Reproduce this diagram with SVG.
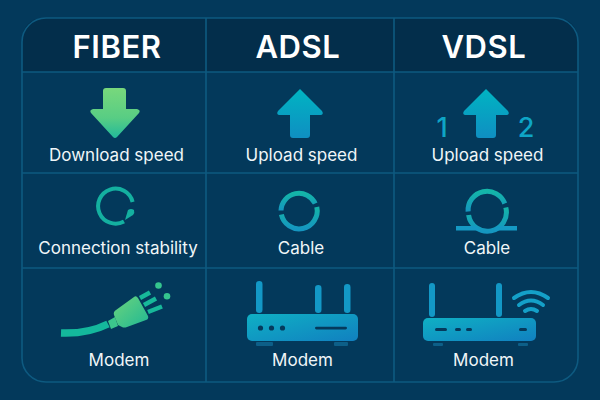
<svg xmlns="http://www.w3.org/2000/svg" width="600" height="400" viewBox="0 0 600 400">
<style>
.h{font-family:Inter,"Liberation Sans",sans-serif;font-size:31px;font-weight:600;letter-spacing:.6px;fill:#fff;text-anchor:middle}
.l{font-family:Inter,"Liberation Sans",sans-serif;font-size:17px;font-weight:400;fill:#f0f6f8;text-anchor:middle}
.n{font-family:Inter,"Liberation Sans",sans-serif;font-size:27px;font-weight:500;fill:#0ea5c6;text-anchor:middle}
.g{stroke:#0e5a80;stroke-width:1.6;fill:none}
.dk{fill:#053a5c}
.foot{fill:#0d5f88}
</style>
<defs>
<linearGradient id="gd" x1="0" y1="0" x2="0" y2="1"><stop offset="0" stop-color="#78d87c"/><stop offset="0.6" stop-color="#58cd84"/><stop offset="1" stop-color="#22b99a"/></linearGradient>
<linearGradient id="gu" x1="0" y1="0" x2="0" y2="1"><stop offset="0" stop-color="#00b4c2"/><stop offset="1" stop-color="#0f8fc2"/></linearGradient>
<linearGradient id="gr" x1="0" y1="0" x2="1" y2="1"><stop offset="0" stop-color="#0fb0c4"/><stop offset="1" stop-color="#1180c0"/></linearGradient>
<linearGradient id="gc" x1="0" y1="0" x2="0" y2="1"><stop offset="0" stop-color="#14b5a8"/><stop offset="1" stop-color="#1596c0"/></linearGradient>
<linearGradient id="gb" x1="0" y1="0" x2="1" y2="1"><stop offset="0" stop-color="#6cd47c"/><stop offset="1" stop-color="#20b894"/></linearGradient>
<path id="up" d="M0 -49L22 -27Q24 -24 21 -23H10V-3Q10 0 7 0H-7Q-10 0 -10 -3V-23H-21Q-24 -24 -22 -27Z"/>
</defs>
<rect width="600" height="400" fill="#03395b"/>
<g id="table">
<path d="M22 72V42Q22 18 46 18H554Q578 18 578 42V72Z" fill="#032e4b"/>
<rect x="22" y="18" width="556" height="364" rx="24" class="g"/>
<path class="g" d="M206 18V382M394 18V382M22 72H578M22 173H578M22 268H578"/>
</g>
<g id="fiber-head"><text class="h" x="117" y="58">FIBER</text></g>
<g id="adsl-head"><text class="h" x="298" y="58">ADSL</text></g>
<g id="vdsl-head"><text class="h" x="484" y="58">VDSL</text></g>
<g id="fiber-speed">
<path fill="url(#gd)" d="M103 91Q103 88 106 88H123Q126 88 126 91V109H137Q141 110 139 113L117 137Q115 139 113 137L91 113Q89 110 93 109H103Z"/>
<text class="l" x="116.500" y="160.500">Download speed</text>
</g>
<g id="adsl-speed">
<use href="#up" x="300" y="138" fill="url(#gu)"/>
<text class="l" x="301.500" y="160.500">Upload speed</text>
</g>
<g id="vdsl-speed">
<use href="#up" x="486" y="138" fill="url(#gu)"/>
<text class="n" x="442" y="137">1</text>
<text class="n" x="526" y="137">2</text>
<text class="l" x="487.500" y="160.500">Upload speed</text>
</g>
<g id="fiber-stability">
<path d="M132.600 202A17.500 17.500 0 1 0 124 221.500" fill="none" stroke="#14b0a0" stroke-width="4"/>
<path d="M125 220L128 210Q131 208 134 210Q135 213 133 215Z" fill="#14b0a0"/>
<text class="l" x="118" y="254">Connection stability</text>
</g>
<g id="adsl-cable">
<path d="M281 210.500A18 18 0 0 1 315.200 203.500" fill="none" stroke="url(#gc)" stroke-width="5"/>
<path d="M316.800 207A18 18 0 1 1 281.400 214.500" fill="none" stroke="url(#gc)" stroke-width="5"/>
<text class="l" x="301" y="254">Cable</text>
</g>
<g id="vdsl-cable">
<path d="M468.100 211.500A19 19 0 0 1 504.800 203.500" fill="none" stroke="url(#gc)" stroke-width="5"/>
<path d="M505.800 207.500A19 19 0 1 1 468.600 215" fill="none" stroke="url(#gc)" stroke-width="5"/>
<path d="M456 226H476L481 230.500H456ZM497 226H517V230.500H493Z" fill="#1599c4"/>
<text class="l" x="487" y="254">Cable</text>
</g>
<g id="fiber-modem">
<path d="M61 333Q88 334 108 324" fill="none" stroke="#14b89c" stroke-width="7.500"/>
<path d="M108 321L115 317L118 326L111 329Z" fill="#3cc68c"/>
<path d="M114 315Q113 312 116 310L134 297Q136 295 138 298L148 316Q149 319 146 320L127 327Q124 328 122 327L118 325Z" fill="url(#gb)"/>
<g stroke="#17b89a" stroke-width="4.500" fill="none"><path d="M140 298L150 292.500M144 305L156 298.500M148 312L162 306.500"/></g>
<circle cx="158.500" cy="285.500" r="3.300" fill="#35c58e"/>
<circle cx="167" cy="296.300" r="3.300" fill="#35c58e"/>
<text class="l" x="119" y="366">Modem</text>
</g>
<g id="adsl-modem">
<g fill="#1398c6"><rect x="256" y="281" width="6.500" height="32" rx="3.200"/><rect x="315" y="285" width="6.500" height="28" rx="3.200"/><rect x="344" y="284" width="6.500" height="29" rx="3.200"/></g>
<rect class="foot" x="256" y="342" width="17" height="4" rx="1"/><rect class="foot" x="334" y="342" width="14" height="4" rx="1"/>
<rect x="247" y="314" width="111" height="27" rx="5" fill="url(#gr)"/>
<g class="dk"><circle cx="260.500" cy="328" r="2.600"/><circle cx="271.500" cy="328" r="2.600"/><circle cx="282.500" cy="328" r="2.600"/><rect x="315" y="326.700" width="32" height="2.800" rx="1.400"/></g>
<text class="l" x="302.500" y="366">Modem</text>
</g>
<g id="vdsl-modem">
<g fill="#1398c6"><rect x="429" y="283" width="6" height="34" rx="3"/><rect x="496" y="283" width="6" height="34" rx="3"/></g>
<rect class="foot" x="433" y="343" width="10" height="3" rx="1"/><rect class="foot" x="518" y="343" width="10" height="3" rx="1"/>
<rect x="423" y="318" width="113" height="23" rx="5" fill="url(#gr)"/>
<g class="dk"><rect x="435" y="328" width="12" height="3" rx="1.500"/><rect x="455" y="328" width="6" height="3" rx="1.500"/><rect x="466" y="328" width="6" height="3" rx="1.500"/><rect x="519" y="328" width="8" height="3" rx="1.500"/></g>
<g fill="none" stroke="#14a0c8" stroke-linecap="round" stroke-width="4"><path d="M514 298Q531 286 548 298"/><path d="M519 305Q531 296 543 305"/><path d="M525 311Q531 307 537 311"/></g>
<text class="l" x="483.500" y="366">Modem</text>
</g>
</svg>
